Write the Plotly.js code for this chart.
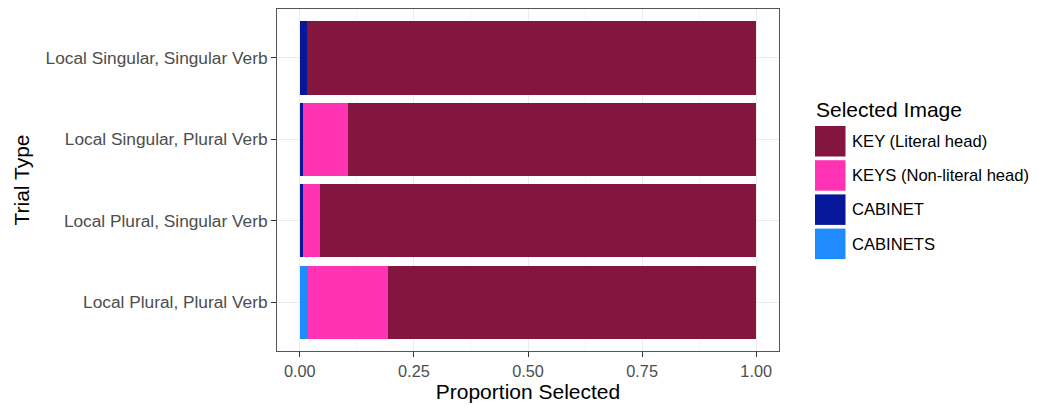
<!DOCTYPE html>
<html>
<head>
<meta charset="utf-8">
<script src="https://cdn.plot.ly/plotly-3.0.1.min.js"></script>
<style>html,body{margin:0;padding:0;background:#fff;}#chart{width:1037px;height:407px;}</style>
</head>
<body>
<div id="chart"></div>
<script>
// Data
const trialTypes = [
  "Local Plural, Plural Verb",
  "Local Plural, Singular Verb",
  "Local Singular, Plural Verb",
  "Local Singular, Singular Verb"
];
const cabinets = [0.017, 0.000, 0.000, 0.000];
const cabinet  = [0.000, 0.006, 0.007, 0.015];
const keys     = [0.176, 0.039, 0.098, 0.000];
const key      = [0.807, 0.955, 0.895, 0.985];

const seriesNames  = ["CABINETS", "CABINET", "KEYS (Non-literal head)", "KEY (Literal head)"];
const seriesValues = [cabinets, cabinet, keys, key];
const seriesColors = ["#1E8CFF", "#06179A", "#FF33B4", "#84153F"];
const xTickVals = [0, 0.25, 0.5, 0.75, 1];
const xTickText = ["0.00", "0.25", "0.50", "0.75", "1.00"];

const FONT = "Liberation Sans, Arial, sans-serif";
const W = 1037, H = 407;
const M = {l: 277, r: 258, t: 9, b: 56};
const PW = W - M.l - M.r, PH = H - M.t - M.b;
const px = v => (v - M.l) / PW;
const py = v => (H - M.b - v) / PH;

const traces = seriesNames.map((n, i) => ({
  type: 'bar',
  orientation: 'h',
  name: n,
  y: trialTypes,
  x: seriesValues[i],
  width: 0.9,
  marker: {color: seriesColors[i], line: {width: 0}},
  hoverinfo: 'name+x',
  showlegend: false
}));

// custom legend (ggplot-like large keys), top item = KEY
const shapes = [];
const annotations = [];
annotations.push({
  xref: 'paper', yref: 'paper', x: px(814), y: py(110),
  xanchor: 'left', yanchor: 'middle', showarrow: false,
  text: 'Selected Image', font: {family: FONT, size: 21, color: '#000'}
});
const legendOrder = [3, 2, 1, 0];
legendOrder.forEach((si, k) => {
  const top = 126 + k * 34.2;
  shapes.push({
    type: 'rect', xref: 'paper', yref: 'paper',
    x0: px(815), x1: px(845.5), y0: py(top), y1: py(top + 30.5),
    fillcolor: seriesColors[si], line: {width: 0}
  });
  annotations.push({
    xref: 'paper', yref: 'paper', x: px(850), y: py(top + 15.5),
    xanchor: 'left', yanchor: 'middle', showarrow: false,
    text: seriesNames[si], font: {family: FONT, size: 16.6, color: '#000'}
  });
});

const layout = {
  width: W, height: H,
  margin: M,
  paper_bgcolor: '#fff', plot_bgcolor: '#fff',
  barmode: 'stack',
  bargap: 0.1,
  showlegend: false,
  font: {family: FONT},
  xaxis: {
    range: [-0.05, 1.05],
    tickvals: xTickVals, ticktext: xTickText,
    ticks: 'outside', ticklen: 5, tickwidth: 1, tickcolor: '#333',
    tickfont: {family: FONT, size: 16.3, color: '#4D4D4D'},
    showgrid: true, gridcolor: '#EBEBEB', gridwidth: 1,
    minor: {tickvals: [0.125, 0.375, 0.625, 0.875], showgrid: true, gridcolor: '#F5F5F5', gridwidth: 1, ticks: ''},
    zeroline: false,
    showline: true, mirror: true, linecolor: '#555', linewidth: 1,
    title: {text: 'Proportion Selected', font: {family: FONT, size: 21, color: '#000'}, standoff: 5},
    automargin: false
  },
  yaxis: {
    type: 'category',
    categoryorder: 'array', categoryarray: trialTypes,
    range: [-0.6, 3.6],
    ticks: 'outside', ticklen: 5, tickwidth: 1, tickcolor: '#333',
    tickfont: {family: FONT, size: 17.3, color: '#4D4D4D'},
    showgrid: true, gridcolor: '#EBEBEB', gridwidth: 1,
    zeroline: false,
    showline: true, mirror: true, linecolor: '#555', linewidth: 1,
    title: {text: 'Trial Type', font: {family: FONT, size: 21, color: '#000'}, standoff: 10},
    automargin: false
  },
  shapes: shapes,
  annotations: annotations
};

Plotly.newPlot('chart', traces, layout, {displayModeBar: false, staticPlot: true});
</script>
</body>
</html>
